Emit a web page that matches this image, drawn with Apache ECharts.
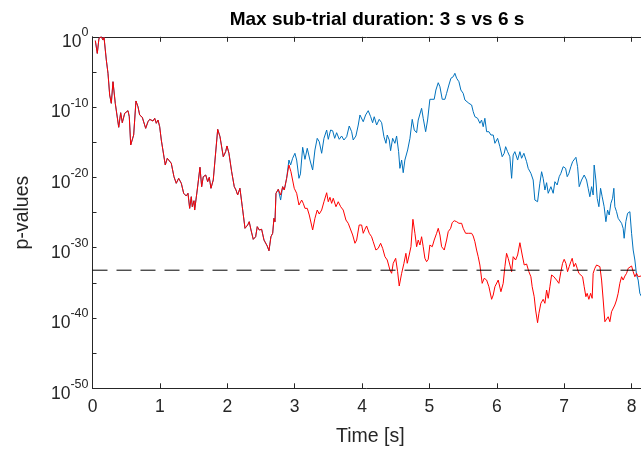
<!DOCTYPE html>
<html>
<head>
<meta charset="utf-8">
<script src="https://cdn.jsdelivr.net/npm/echarts@6/dist/echarts.min.js"></script>
<style>html,body{margin:0;padding:0;background:#fff;}#chart{width:641px;height:452px;}</style>
</head>
<body>
<div id="chart"></div>
<script>
// Values: [time in s, log10(p-value)]
const chartTitle = 'Max sub-trial duration: 3 s vs 6 s';
const xAxisName = 'Time [s]';
const yAxisName = 'p-values';
const xTicks = [0, 1, 2, 3, 4, 5, 6, 7, 8];
const yTickExponents = [-50, -40, -30, -20, -10, 0];
const thresholdLogP = -33.2;

// common part of both curves (identical until ~2.76 s)
const sharedPoints = [[0.042,-0.55],[0.071,-2.36],[0.096,-0.21],[0.131,0],[0.156,-0.46],[0.171,-0.07],[0.205,-3.30],[0.230,-5.19],[0.255,-8.28],[0.279,-9.46],
[0.304,-6.39],[0.338,-9.46],[0.389,-12.87],[0.418,-10.80],[0.442,-12.22],[0.478,-10.88],[0.527,-10.51],[0.546,-11.37],[0.567,-15.39],[0.611,-13.97],
[0.645,-9.13],[0.675,-9.94],[0.700,-11.12],[0.739,-11.45],[0.764,-11.27],[0.789,-13.02],[0.823,-12.08],[0.849,-11.74],[0.898,-11.98],[0.923,-11.59],
[0.947,-12.30],[0.972,-11.84],[0.997,-12.79],[1.021,-14.68],[1.046,-14.92],[1.080,-18.24],[1.110,-17.28],[1.169,-17.99],[1.209,-19.90],[1.243,-20.84],
[1.279,-20.13],[1.318,-20.84],[1.353,-22.26],[1.392,-22.65],[1.417,-22.26],[1.442,-24.40],[1.466,-22.75],[1.481,-24.17],[1.506,-23.32],[1.516,-24.64],
[1.558,-21.51],[1.595,-18.56],[1.620,-21.32],[1.644,-19.90],[1.680,-19.66],[1.709,-20.61],[1.733,-19.99],[1.758,-21.55],[1.792,-20.37],[1.818,-17.53],
[1.858,-13.16],[1.892,-14.21],[1.941,-17.06],[1.976,-16.34],[1.996,-15.53],[2.025,-16.57],[2.065,-19.19],[2.104,-21.32],[2.129,-21.79],[2.154,-22.50],
[2.188,-21.55],[2.223,-24.17],[2.263,-27.24],[2.303,-26.77],[2.326,-26.30],[2.352,-27.48],[2.386,-28.81],[2.421,-28.44],[2.445,-27.01],[2.475,-27.48],
[2.510,-27.38],[2.545,-28.91],[2.574,-29.15],[2.593,-29.76],[2.619,-30.43],[2.648,-28.44],[2.674,-27.95],[2.693,-25.82],[2.708,-26.30],[2.723,-22.26],[2.757,-21.69]];

// 3 s curve (red) after the common part
const redPoints = [[2.792,-22.50],[2.822,-21.32],[2.846,-21.79],[2.881,-20.13],[2.915,-18.24],[2.945,-19.19],[2.994,-21.55],[3.030,-22.26],[3.064,-23.93],[3.104,-23.22],
[3.128,-23.69],[3.153,-24.40],[3.187,-24.40],[3.217,-25.35],[3.267,-27.48],[3.301,-25.82],[3.335,-24.64],[3.365,-25.21],[3.401,-24.64],[3.435,-23.46],
[3.475,-22.18],[3.499,-23.46],[3.524,-22.83],[3.549,-23.69],[3.573,-22.97],[3.613,-24.17],[3.647,-23.46],[3.683,-24.17],[3.721,-24.64],[3.761,-26.06],
[3.795,-26.53],[3.820,-26.30],[3.861,-28.19],[3.895,-29.37],[3.920,-28.91],[3.958,-26.77],[3.994,-26.77],[4.018,-27.95],[4.043,-27.38],[4.068,-26.91],
[4.107,-27.95],[4.142,-28.44],[4.166,-29.15],[4.206,-30.33],[4.240,-30.09],[4.276,-29.37],[4.306,-30.09],[4.340,-31.28],[4.374,-31.75],[4.414,-33.17],
[4.439,-33.64],[4.463,-32.22],[4.499,-31.51],[4.528,-33.41],[4.552,-35.45],[4.588,-33.64],[4.622,-32.22],[4.651,-30.80],[4.671,-32.22],[4.700,-31.04],
[4.726,-29.86],[4.755,-25.96],[4.785,-27.95],[4.810,-29.86],[4.834,-28.91],[4.859,-29.62],[4.884,-28.44],[4.908,-29.86],[4.933,-31.51],[4.958,-31.99],
[4.982,-31.65],[5.007,-29.62],[5.042,-29.86],[5.071,-28.91],[5.107,-27.95],[5.131,-27.24],[5.156,-28.19],[5.181,-29.86],[5.220,-30.33],[5.255,-28.91],
[5.279,-27.72],[5.315,-27.24],[5.338,-26.44],[5.368,-26.16],[5.404,-26.30],[5.438,-26.53],[5.478,-26.53],[5.501,-27.24],[5.537,-27.95],[5.576,-27.95],
[5.601,-28.19],[5.626,-27.95],[5.650,-28.34],[5.675,-29.15],[5.700,-30.33],[5.724,-31.28],[5.749,-32.46],[5.783,-35.07],[5.813,-34.35],[5.849,-34.60],
[5.883,-35.55],[5.923,-37.34],[5.947,-36.73],[5.972,-35.55],[5.997,-35.31],[6.021,-34.60],[6.046,-34.35],[6.061,-36.26],[6.095,-35.07],[6.120,-32.70],
[6.145,-30.80],[6.169,-31.51],[6.194,-31.75],[6.220,-33.41],[6.243,-31.28],[6.279,-31.75],[6.309,-31.04],[6.343,-29.29],[6.377,-31.04],[6.407,-32.46],
[6.442,-32.32],[6.476,-33.41],[6.506,-34.13],[6.525,-35.55],[6.555,-36.97],[6.576,-38.86],[6.605,-40.67],[6.625,-39.33],[6.654,-37.91],[6.688,-37.34],
[6.714,-37.91],[6.739,-36.02],[6.763,-37.20],[6.788,-35.55],[6.813,-33.88],[6.847,-34.13],[6.887,-34.60],[6.921,-35.07],[6.951,-33.41],[6.976,-32.22],
[7.000,-31.65],[7.025,-32.22],[7.050,-33.41],[7.074,-32.70],[7.099,-31.99],[7.119,-31.51],[7.144,-32.70],[7.169,-32.22],[7.193,-32.93],[7.218,-33.64],
[7.243,-33.88],[7.273,-34.13],[7.297,-35.55],[7.322,-36.97],[7.341,-36.49],[7.366,-37.34],[7.392,-36.49],[7.415,-37.20],[7.430,-33.64],[7.455,-32.93],
[7.481,-32.46],[7.504,-32.22],[7.530,-32.70],[7.555,-34.60],[7.579,-37.44],[7.604,-40.53],[7.629,-40.76],[7.653,-39.82],[7.678,-40.53],[7.703,-39.11],
[7.727,-38.86],[7.752,-38.15],[7.777,-37.44],[7.801,-36.49],[7.826,-35.07],[7.852,-34.13],[7.875,-34.60],[7.901,-34.03],[7.926,-33.64],[7.950,-32.93],
[7.975,-32.70],[8.000,-32.60],[8.024,-33.41],[8.049,-34.13],[8.074,-33.64],[8.098,-34.13],[8.123,-33.88],[8.150,-34.00]];

// 6 s curve (blue) after the common part
const bluePoints = [[2.792,-23.22],[2.822,-21.32],[2.846,-21.79],[2.881,-20.13],[2.915,-17.53],[2.940,-18.24],[2.970,-17.28],[3.004,-16.57],[3.030,-17.53],[3.064,-20.13],
[3.086,-19.50],[3.119,-15.72],[3.153,-17.43],[3.187,-15.86],[3.227,-17.53],[3.267,-18.95],[3.301,-16.10],[3.335,-14.44],[3.365,-14.92],[3.401,-16.57],
[3.435,-14.44],[3.475,-13.26],[3.499,-14.58],[3.534,-13.26],[3.564,-13.36],[3.594,-14.44],[3.623,-13.64],[3.662,-14.58],[3.697,-14.11],[3.731,-14.68],
[3.772,-14.21],[3.810,-12.69],[3.846,-13.50],[3.869,-14.68],[3.909,-14.11],[3.944,-12.55],[3.969,-11.12],[3.994,-10.88],[4.018,-12.08],[4.053,-11.12],
[4.092,-10.51],[4.128,-11.37],[4.157,-12.22],[4.181,-11.37],[4.217,-12.55],[4.255,-11.74],[4.291,-12.22],[4.325,-14.21],[4.355,-15.15],[4.374,-13.97],
[4.404,-14.68],[4.424,-16.20],[4.454,-14.44],[4.488,-15.15],[4.513,-14.11],[4.543,-16.34],[4.562,-18.71],[4.588,-17.53],[4.611,-19.33],[4.636,-17.53],
[4.677,-16.10],[4.711,-14.44],[4.745,-11.74],[4.775,-13.26],[4.810,-13.64],[4.834,-11.84],[4.859,-12.08],[4.884,-10.17],[4.908,-11.59],[4.944,-13.50],
[4.973,-11.84],[5.007,-8.89],[5.033,-9.09],[5.071,-8.89],[5.096,-7.57],[5.131,-6.53],[5.156,-7.10],[5.190,-8.89],[5.230,-8.89],[5.255,-8.04],
[5.289,-6.86],[5.319,-5.90],[5.353,-5.68],[5.378,-5.19],[5.404,-5.90],[5.438,-6.39],[5.467,-7.57],[5.501,-8.04],[5.527,-8.99],[5.556,-9.23],
[5.586,-9.46],[5.626,-9.70],[5.650,-10.65],[5.675,-11.37],[5.715,-11.59],[5.749,-12.30],[5.774,-11.84],[5.798,-12.79],[5.823,-11.59],[5.849,-13.50],
[5.883,-13.50],[5.913,-13.97],[5.947,-13.97],[5.972,-15.15],[6.012,-14.44],[6.046,-15.63],[6.080,-17.06],[6.110,-16.57],[6.131,-15.63],[6.160,-16.34],
[6.194,-17.06],[6.220,-20.13],[6.243,-16.81],[6.268,-16.34],[6.309,-17.53],[6.343,-16.34],[6.368,-17.28],[6.402,-16.57],[6.442,-17.77],[6.466,-18.71],
[6.506,-19.42],[6.540,-20.37],[6.565,-23.22],[6.605,-23.46],[6.639,-20.84],[6.665,-19.19],[6.688,-20.13],[6.714,-21.79],[6.739,-20.75],[6.763,-22.26],
[6.803,-21.32],[6.837,-22.26],[6.862,-20.61],[6.896,-21.08],[6.926,-19.90],[6.951,-19.42],[6.985,-18.48],[7.021,-18.71],[7.045,-19.90],[7.070,-19.42],
[7.099,-18.48],[7.125,-17.77],[7.148,-17.99],[7.174,-17.14],[7.199,-18.48],[7.223,-21.32],[7.258,-20.37],[7.297,-19.66],[7.332,-20.37],[7.356,-21.55],
[7.381,-22.75],[7.407,-21.32],[7.430,-22.50],[7.445,-18.24],[7.470,-20.37],[7.490,-22.97],[7.515,-24.17],[7.540,-21.55],[7.564,-22.75],[7.593,-24.17],
[7.619,-26.30],[7.644,-24.64],[7.668,-25.35],[7.693,-23.69],[7.718,-22.97],[7.737,-21.55],[7.752,-24.17],[7.777,-24.88],[7.801,-25.82],[7.826,-25.59],
[7.852,-26.53],[7.875,-27.24],[7.890,-28.66],[7.915,-26.30],[7.941,-25.11],[7.975,-24.88],[8.000,-27.95],[8.024,-30.33],[8.049,-31.75],[8.074,-33.88],
[8.098,-34.60],[8.123,-36.49],[8.150,-37.00]];

const FONT = "'Liberation Sans', Arial, Helvetica, sans-serif";
const AXIS_COLOR = '#262626';
const X_MAX = 8.14;

const blueData = sharedPoints.concat(bluePoints);
const redData = sharedPoints.concat(redPoints);

const chart = echarts.init(document.getElementById('chart'), null, {renderer: 'canvas'});

const xAxisCommon = {
  type: 'value', min: xTicks[0], max: X_MAX, interval: 1,
  axisLine: {show: true, onZero: false, lineStyle: {color: AXIS_COLOR, width: 1}},
  axisTick: {show: true, inside: true, length: 5, lineStyle: {color: AXIS_COLOR}},
  splitLine: {show: false}
};

chart.setOption({
  animation: false,
  backgroundColor: '#ffffff',
  grid: {left: 92.5, top: 36.8, right: 0, bottom: 63.7, containLabel: false},
  graphic: [{
    type: 'text', x: 377, y: 20,
    style: {text: chartTitle, font: 'bold 19px ' + FONT, fill: '#000', textAlign: 'center', textVerticalAlign: 'middle'}
  }],
  xAxis: [
    Object.assign({}, xAxisCommon, {
      position: 'bottom',
      name: xAxisName, nameLocation: 'middle', nameGap: 38,
      nameTextStyle: {fontFamily: FONT, fontSize: 19.5, color: AXIS_COLOR, padding: [0, 0, 0, 7]},
      axisLabel: {
        show: true, margin: 10, fontFamily: FONT, fontSize: 17.5, color: AXIS_COLOR,
        showMaxLabel: false,
        formatter: v => (xTicks.indexOf(v) >= 0 ? String(v) : '')
      }
    }),
    Object.assign({}, xAxisCommon, {position: 'top', axisLabel: {show: false}})
  ],
  yAxis: {
    type: 'value', min: yTickExponents[0], max: yTickExponents[yTickExponents.length - 1], interval: 10,
    name: yAxisName, nameLocation: 'middle', nameGap: 60,
    nameTextStyle: {fontFamily: FONT, fontSize: 19.5, color: AXIS_COLOR},
    axisLine: {show: true, onZero: false, lineStyle: {color: AXIS_COLOR, width: 1}},
    axisTick: {show: true, inside: true, length: 4, lineStyle: {color: AXIS_COLOR}},
    minorTick: {show: true, splitNumber: 2, length: 4, lineStyle: {color: AXIS_COLOR}},
    splitLine: {show: false},
    minorSplitLine: {show: false},
    axisLabel: {
      margin: 4, color: AXIS_COLOR,
      formatter: v => '{b|10}{s|' + v + '}',
      rich: {
        b: {fontFamily: FONT, fontSize: 17.5, lineHeight: 17, padding: [11, 0, 0, 0], color: AXIS_COLOR},
        s: {fontFamily: FONT, fontSize: 12.5, lineHeight: 12, padding: [4, 0, 12, 0], color: AXIS_COLOR}
      }
    }
  },
  series: [
    {
      name: '6 s', type: 'line', data: blueData, showSymbol: false, symbol: 'none',
      lineStyle: {color: '#0072BD', width: 1}, z: 2, clip: true
    },
    {
      name: '3 s', type: 'line', data: redData, showSymbol: false, symbol: 'none',
      lineStyle: {color: '#FF0000', width: 1}, z: 3, clip: true
    },
    {
      name: 'threshold', type: 'line', data: [[xTicks[0], thresholdLogP], [X_MAX, thresholdLogP]],
      showSymbol: false, symbol: 'none',
      lineStyle: {color: '#000000', width: 1, type: [15, 9]}, z: 4
    }
  ]
});
</script>
</body>
</html>
